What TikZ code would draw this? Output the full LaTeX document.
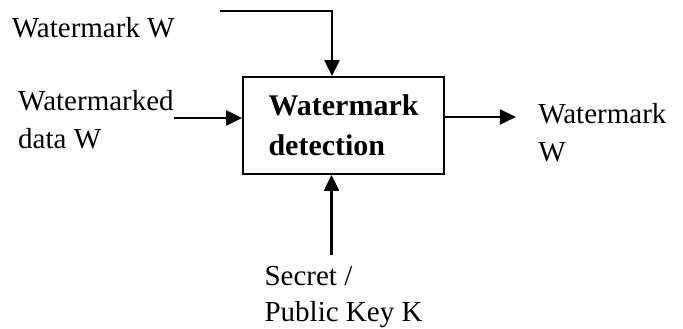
\documentclass[tikz,border=0pt]{standalone}
\usepackage{fontspec}
\setmainfont{Liberation Serif}
\usepackage{tikz}
\usetikzlibrary{positioning, arrows.meta}
\tikzstyle{process} = [rectangle, minimum width=100.5pt, minimum height=48.5pt, align=left, draw=black, line width=0.9pt, font=\fontsize{15}{20}\selectfont\bfseries]
\tikzstyle{txt} = [inner sep=0pt, align=left]
\tikzstyle{arrow} = [line width=1.1pt, ->, >={Triangle[length=8pt,width=7.5pt]}]

\begin{document}
\begin{tikzpicture}[node distance=2cm, font=\fontsize{14.5}{19}\selectfont]
\useasboundingbox (0,0) rectangle (341.5pt,164pt);
\node (detect) [process] at (171.75pt,101.25pt) {Watermark\\detection};
\coordinate (wmstart) at (110pt,158.5pt);
\node (wm) [txt, left=22.5pt of wmstart, yshift=-8.5pt] {Watermark W};
\node (wmdata) [txt, left=34pt of detect, yshift=3pt] {Watermarked\\data W};
\node (wmout) [txt, right=46.5pt of detect, yshift=-3.5pt] {Watermark\\W};
\node (key) [txt, below=45.5pt of detect, font=\fontsize{14.5}{18}\selectfont] {Secret /\\Public Key K};
\draw [arrow] (wmstart) -| ([xshift=-5.75pt]detect.north);
\draw [arrow] (wmdata.east |- 0,105pt) -- (detect.west |- 0,105pt);
\draw [arrow] (detect.east |- 0,105.5pt) -- ++(35.5pt,0);
\draw [arrow, shorten <=5.5pt] ([xshift=-6pt]key.north) -- ([xshift=-6pt]detect.south);
\end{tikzpicture}
\end{document}
